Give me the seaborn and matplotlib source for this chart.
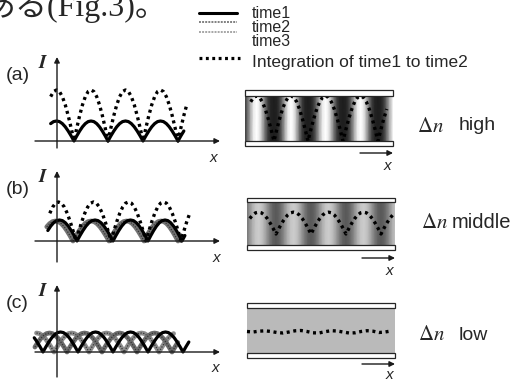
import numpy as np
import pandas as pd
import matplotlib
matplotlib.use('Agg')
from matplotlib import pyplot as plt
from matplotlib.patches import Rectangle
import seaborn as sns

sns.set_theme(style='white')
plt.rcParams['font.family'] = ['Liberation Sans', 'DejaVu Sans']
plt.rcParams['mathtext.fontset'] = 'stix'

W, H = 521, 383

# shape of one hump of the waves (normalised)
hump = [0, 0.26, 0.5, 0.71, 0.87, 0.97, 1, 0.97, 0.87, 0.71, 0.5, 0.26, 0]

# (a) delta n high: zeros of the waves (px from the I axis), heights, visible span
a_zeros = [-18, 17, 51, 86, 121, 156]
a_t1_height = 20
a_t1_span = [-8, 129]
a_int_height = 51
a_int_span = [-9, 132]

# (b) delta n middle
b_t1_zeros = [-15, 20, 56, 91, 125, 160]
b_t2_zeros = [-19, 16, 52, 87, 121, 156]
b_int_zeros = [-16, 19, 54, 89, 124, 159]
b_t1_height = 21
b_t2_height = 20
b_int_height = 39
b_t1_span = [-10, 130]
b_t2_span = [-12, 126]
b_int_span = [-10, 133]

# (c) delta n low
c_t1_zeros = [-49, -14, 21, 56, 91, 126, 161]
c_t2_zeros = [-60, -25, 10, 45, 80, 115, 150]
c_t3_zeros = [-38, -3, 32, 67, 102, 137]
c_height = [20, 19, 19]
c_t1_span = [-24, 133]
c_t2_span = [-24, 121]
c_t3_span = [-22, 118]
# integrated line inside the (c) cell, small ripple (px)
c_int_x = [-10, -4, 2, 8, 14, 20, 26, 32, 38, 44, 50, 56, 62, 68, 74, 80, 86,
           92, 98, 104, 110, 116, 122, 128, 134]
c_int_y = [0.5, 0, 0.8, 1.2, 0.5, -0.5, -1, 0, 1.2, 1.5, 0.5, -0.8, -1, 0.3,
           1.3, 1, 0, -1, -0.8, 0.5, 1.3, 0.8, -0.5, 0, 1]

levels = ['high', 'middle', 'low']
legend_labels = ['time1', 'time2', 'time3', 'Integration of time1 to time2']


def wave(zeros, height):
    xs, ys = [], []
    t = np.linspace(0, 1, len(hump))
    for z0, z1 in zip(zeros[:-1], zeros[1:]):
        sx = list(z0 + (z1 - z0) * t)
        sy = list(height * np.asarray(hump))
        if xs:
            sx, sy = sx[1:], sy[1:]
        xs += sx
        ys += sy
    return pd.DataFrame({'x': xs, 'y': ys})


def clip(df, span):
    return df[(df.x >= span[0]) & (df.x <= span[1])]


fig = plt.figure(figsize=(W / 100, H / 100), dpi=100)
fig.patch.set_facecolor('white')


def px_axes(x0, y0, x1, y1):
    ax = fig.add_axes([x0 / W, 1 - y1 / H, (x1 - x0) / W, (y1 - y0) / H])
    ax.set_axis_off()
    return ax


over = px_axes(0, 0, W, H)
over.set_xlim(0, W)
over.set_ylim(H, 0)

arrow = dict(arrowstyle='-|>', color='k', lw=1, mutation_scale=8,
             shrinkA=0, shrinkB=0)


def draw_solid(ax, df):
    sns.lineplot(data=df, x='x', y='y', ax=ax, color='black', lw=2.3,
                 sort=False, estimator=None, legend=False)


def draw_gray(ax, df, shade):
    sns.lineplot(data=df, x='x', y='y', ax=ax, color=shade, lw=3.4,
                 sort=False, estimator=None, legend=False)
    sns.lineplot(data=df, x='x', y='y', ax=ax, color='0.2', lw=0.9,
                 linestyle=(0, (1, 1.2)), sort=False, estimator=None, legend=False)


def draw_dots(ax, df):
    sns.lineplot(data=df, x='x', y='y', ax=ax, color='black', lw=2.4,
                 linestyle=(0, (0.9, 1.1)), sort=False, estimator=None, legend=False)


# left plots: origin in figure px
origins = [(57, 141), (57, 241), (57, 352)]
ytops = [84, 70, 67]
ybots = [-7, -21, -25]
plots = []
for (ox, oy), yt, yb in zip(origins, ytops, ybots):
    ax = px_axes(25, oy - 95, 235, oy + 40)
    ax.set_xlim(25 - ox, 235 - ox)
    ax.set_ylim(-40, 95)
    ax.annotate('', xy=(163, 0), xytext=(-22, 0), arrowprops=arrow)
    ax.annotate('', xy=(0, yt), xytext=(0, yb), arrowprops=arrow)
    plots.append(ax)

a_int = wave(a_zeros, a_int_height)
b_int = wave(b_int_zeros, b_int_height)

draw_dots(plots[0], clip(a_int, a_int_span))
draw_solid(plots[0], clip(wave(a_zeros, a_t1_height), a_t1_span))

draw_gray(plots[1], clip(wave(b_t2_zeros, b_t2_height), b_t2_span), '0.45')
draw_solid(plots[1], clip(wave(b_t1_zeros, b_t1_height), b_t1_span))
draw_dots(plots[1], clip(b_int, b_int_span))

draw_gray(plots[2], clip(wave(c_t3_zeros, c_height[2]), c_t3_span), '0.55')
draw_gray(plots[2], clip(wave(c_t2_zeros, c_height[1]), c_t2_span), '0.42')
draw_solid(plots[2], clip(wave(c_t1_zeros, c_height[0]), c_t1_span))

# cells on the right: (x0, x1, top plate, fill top, fill bottom, bottom plate)
cells = [(245, 393, 90, 96, 141, 146),
         (247, 395, 198, 202, 245, 250),
         (247, 395, 303, 308, 353, 358)]
boxes = []
for x0, x1, pt, ft, fb, pb in cells:
    ax = px_axes(235, pt - 10, 405, pb + 10)
    ax.set_xlim(235 - 257, 405 - 257)
    ax.set_ylim(fb - (pb + 10), fb - (pt - 10))
    fill = Rectangle((x0 - 257, 0), x1 - x0, fb - ft, transform=ax.transData,
                     fc='none', ec='none')
    ax.add_patch(fill)
    ax.add_patch(Rectangle((x0 - 257, fb - ft), x1 - x0, ft - pt, fc='white',
                           ec='0.15', lw=0.9, zorder=4))
    ax.add_patch(Rectangle((x0 - 257, fb - pb), x1 - x0, pb - fb, fc='white',
                           ec='0.15', lw=0.9, zorder=4))
    boxes.append((ax, fill, fb - ft))

# (a) cell
ax, fill, fh = boxes[0]
g = 0.12 + 0.88 * (a_int.y.values / a_int_height) ** 3
m = ax.pcolormesh(a_int.x.values, [0, fh], np.vstack([g, g]), shading='gouraud',
                  cmap='gray', vmin=0, vmax=1)
m.set_clip_path(fill)
da = clip(a_int, a_int_span).copy()
da['y'] = da.y * fh / a_int_height
draw_dots(ax, da)

# (b) cell
ax, fill, fh = boxes[1]
g = 0.35 + 0.45 * (b_int.y.values / b_int_height) ** 2
m = ax.pcolormesh(b_int.x.values, [0, fh], np.vstack([g, g]), shading='gouraud',
                  cmap='gray', vmin=0, vmax=1)
m.set_clip_path(fill)
db = clip(b_int, [-9, 137]).copy()
db['y'] = 11 + db.y * 0.56
draw_dots(ax, db)

# (c) cell
ax, fill, fh = boxes[2]
fill.set_facecolor('0.73')
dc = pd.DataFrame({'x': c_int_x, 'y': 21 + np.asarray(c_int_y)})
draw_dots(ax, dc)

# axis arrows under the cells
for (x0, x1, pt, ft, fb, pb), ay in zip(cells, [153, 258, 364]):
    over.annotate('', xy=(x1, ay), xytext=(x1 - 33, ay), arrowprops=arrow)
    over.text(x1 - 6, min(ay + 13, 375), 'x', fontsize=11, style='italic',
              ha='center', va='center')

# labels of the left plots
for lab, (ox, oy), yt, xl in zip(['(a)', '(b)', '(c)'], origins, ytops,
                                 [(213, 158), (216, 258), (215, 368)]):
    over.text(6, oy - yt + 18, lab, fontsize=14, ha='left', va='center')
    over.text(ox - 14, oy - yt + 6, r'$\mathbfit{I}$', fontsize=14, ha='center', va='center')
    over.text(xl[0], xl[1], 'x', fontsize=11, style='italic', ha='center', va='center')

for lev, (dx, wx, ty) in zip(levels, [(417, 459, 126), (421, 452, 223), (418, 459, 335)]):
    over.text(dx, ty, r'$\Delta n$', fontsize=15, ha='left', va='center')
    over.text(wx, ty, lev, fontsize=14.5 if lev == 'middle' else 14,
              ha='left', va='center')

# legend
over.plot([199, 237], [13, 13], color='black', lw=2.2)
over.plot([199, 237], [22, 22], color='0.5', lw=1.4, linestyle=(0, (1, 0.6)))
over.plot([199, 237], [32, 32], color='0.65', lw=1.4, linestyle=(0, (1, 0.6)))
over.plot([199, 240], [58, 58], color='black', lw=2.3, linestyle=(0, (0.9, 1.1)))
for lab, y, fs in zip(legend_labels, [14, 28, 42, 62], [11.5, 11.5, 11.5, 12.5]):
    over.text(252, y, lab, fontsize=fs, ha='left', va='center')

over.text(-16, 16, 'ある(Fig.3)。', fontsize=23, ha='left', va='baseline',
          family=['Liberation Serif', 'Noto Sans CJK JP'])

fig.savefig('out.png', dpi=100, facecolor='white')
